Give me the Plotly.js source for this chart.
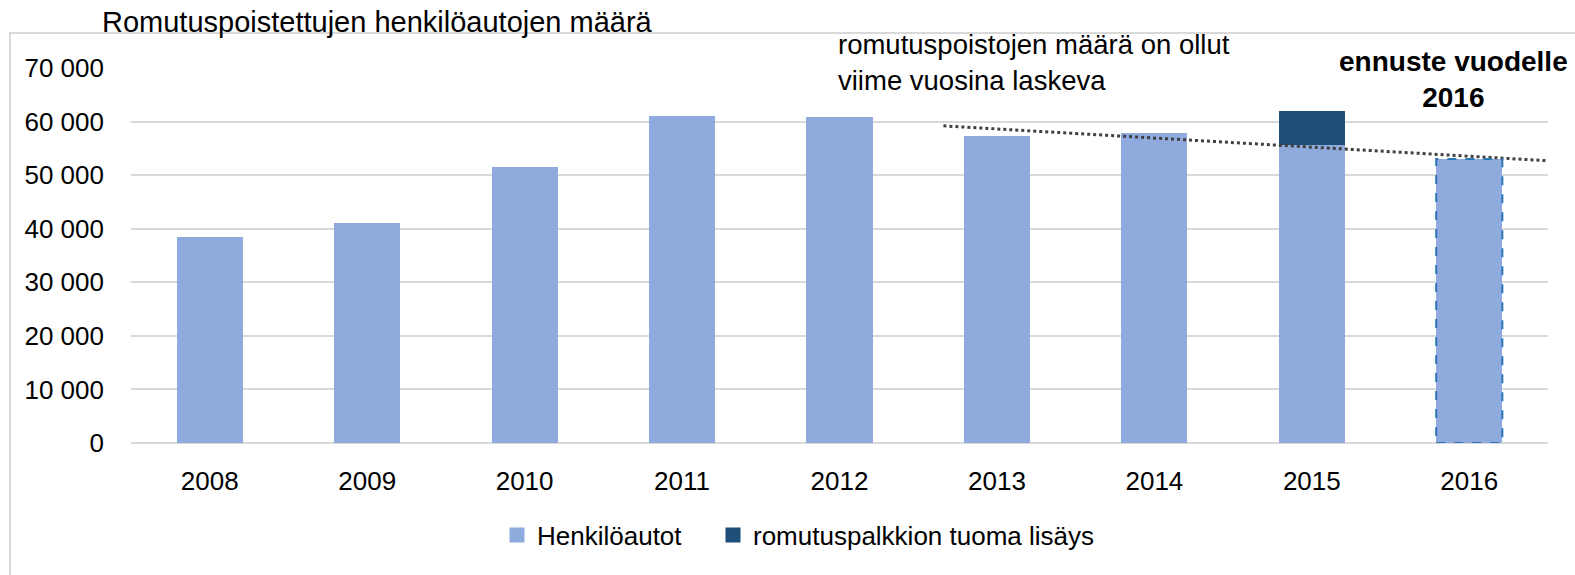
<!DOCTYPE html>
<html>
<head>
<meta charset="utf-8">
<script src="https://cdn.plot.ly/plotly-3.0.1.min.js"></script>
<style>html,body{margin:0;padding:0;background:#fff;}#chart{width:1575px;height:575px;}</style>
</head>
<body>
<div id="chart"></div>
<script>
const years = ['2008','2009','2010','2011','2012','2013','2014','2015','2016'];
const henkiloautot = [38500, 41000, 51500, 61100, 60900, 57300, 57800, 55600, 53000];
const lisays = [null, null, null, null, null, null, null, 6300, null];
const trendX = [4.66, 8.49];
const trendY = [59200, 52700];
const seriesNames = ['Henkilöautot', 'romutuspalkkion tuoma lisäys'];
const seriesColors = ['#8FAADC', '#1F4E79'];
const chartTitle = 'Romutuspoistettujen henkilöautojen määrä';
const noteText = 'romutuspoistojen määrä on ollut<br>viime vuosina laskeva';
const forecastText = '<b>ennuste vuodelle</b><br><b>2016</b>';
const forecastIndex = years.indexOf('2016');

const idx = years.map((y, i) => i);
const barW = 0.42;
const FONT = 'Liberation Sans, Arial, sans-serif';

const L = 131, R = 27, T = 68, B = 132, W = 1575, H = 575;
const pw = W - L - R, ph = H - T - B;
const px = x => (x - L) / pw;
const py = y => (H - B - y) / ph;

const traces = [
  {type: 'bar', x: idx, y: henkiloautot, name: seriesNames[0], width: barW, showlegend: false,
   marker: {color: seriesColors[0], line: {width: 0}}},
  {type: 'bar', x: idx, y: lisays, name: seriesNames[1], width: barW, showlegend: false,
   marker: {color: seriesColors[1], line: {width: 0}}},
  {type: 'scatter', mode: 'lines', x: trendX, y: trendY, showlegend: false, hoverinfo: 'skip',
   line: {color: '#404040', width: 3, dash: 'dot'}},
  // legend entries (no data drawn)
  {type: 'scatter', mode: 'markers', x: [null], y: [null], name: seriesNames[0], showlegend: true,
   legend: 'legend', marker: {symbol: 'square', size: 15, color: seriesColors[0]}},
  {type: 'scatter', mode: 'markers', x: [null], y: [null], name: seriesNames[1], showlegend: true,
   legend: 'legend2', marker: {symbol: 'square', size: 15, color: seriesColors[1]}}
];

const legendBase = {orientation: 'h', xanchor: 'left', y: py(535), yanchor: 'middle',
  font: {family: FONT, size: 26, color: '#000'}, itemwidth: 30, bgcolor: 'rgba(0,0,0,0)'};

const layout = {
  width: W, height: H,
  margin: {l: L, r: R, t: T, b: B},
  paper_bgcolor: '#ffffff', plot_bgcolor: '#ffffff',
  font: {family: FONT, size: 26, color: '#000000'},
  separators: ', ',
  barmode: 'stack',
  showlegend: true,
  legend: Object.assign({}, legendBase, {x: px(497)}),
  legend2: Object.assign({}, legendBase, {x: px(713)}),
  xaxis: {type: 'linear', range: [-0.5, 8.5], tickvals: idx, ticktext: years,
          showgrid: false, zeroline: false, showline: false, ticks: '',
          ticklabelstandoff: 20, tickfont: {family: FONT, size: 26, color: '#000'}},
  yaxis: {range: [0, 70000], dtick: 10000, tickformat: ',d', showgrid: true,
          gridcolor: '#D9D9D9', gridwidth: 2, zeroline: true, zerolinecolor: '#D9D9D9', zerolinewidth: 2,
          showline: false, ticks: '', ticklabelstandoff: 26,
          tickfont: {family: FONT, size: 26, color: '#000'}},
  shapes: [
    {type: 'rect', xref: 'paper', yref: 'paper', x0: px(10), x1: px(1590), y0: py(590), y1: py(33),
     line: {color: '#D9D9D9', width: 2}, fillcolor: 'rgba(0,0,0,0)', layer: 'below'},
    {type: 'rect', xref: 'x', yref: 'y', x0: forecastIndex - barW / 2, x1: forecastIndex + barW / 2,
     y0: 0, y1: henkiloautot[forecastIndex],
     line: {color: '#2E75B6', width: 2, dash: 'dash'}, fillcolor: 'rgba(0,0,0,0)'}
  ],
  annotations: [
    {text: chartTitle, xref: 'paper', yref: 'paper', x: px(100), y: py(22), xanchor: 'left', yanchor: 'middle',
     showarrow: false, font: {family: FONT, size: 29, color: '#000'}},
    {text: noteText, xref: 'paper', yref: 'paper', x: px(836), y: py(63), xanchor: 'left', yanchor: 'middle',
     align: 'left', showarrow: false, font: {family: FONT, size: 27.5, color: '#000'}},
    {text: forecastText, xref: 'paper', yref: 'paper', x: px(1453), y: py(79), xanchor: 'center', yanchor: 'middle',
     align: 'center', showarrow: false, font: {family: FONT, size: 28, color: '#000'}}
  ]
};

Plotly.newPlot('chart', traces, layout, {displayModeBar: false, staticPlot: true});
</script>
</body>
</html>
